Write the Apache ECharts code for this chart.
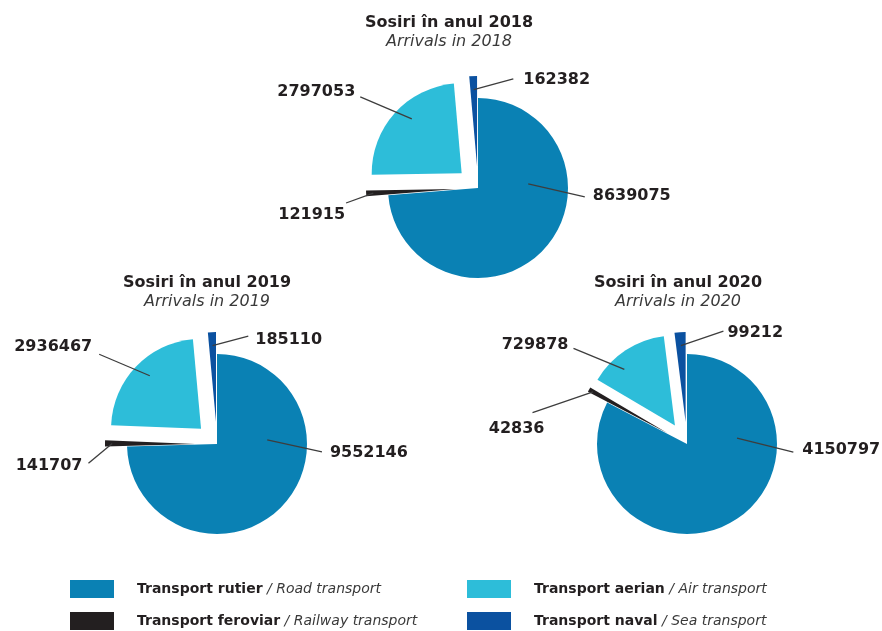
<!DOCTYPE html>
<html>
<head>
<meta charset="utf-8">
<script src="https://cdn.jsdelivr.net/npm/echarts@6/dist/echarts.min.js"></script>
<style>
html, body { margin: 0; background: #fff; }
#main { width: 882px; height: 631px; }
</style>
</head>
<body>
<div id="main"></div>
<script>
// data
var years = ['2018', '2019', '2020'];
var categories = ['Transport rutier', 'Transport feroviar', 'Transport aerian', 'Transport naval'];
var categoriesEn = ['Road transport', 'Railway transport', 'Air transport', 'Sea transport'];
var values2018 = [8639075, 121915, 2797053, 162382];
var values2019 = [9552146, 141707, 2936467, 185110];
var values2020 = [4150797, 42836, 729878, 99212];
var exploded = [false, true, true, true];
var seriesValues = [values2018, values2019, values2020];

// layout
var colors = ['#0a81b4', '#231f20', '#2dbdd9', '#0b51a0'];
var centers = [[478, 188], [217, 444], [687, 444]];
var titleX = [449, 207, 678];
var titleY = [13, 273, 273];
var R = 90, OFFSET = 22;
// label lines: [anchor angle deg (null = middle of slice), anchor radius share,
//               line angle deg, line length, label dx, label dy]
var labelGeom = [
  [[4.6, 0.56, -12.8, 58, 8, -1], [null, 0.92, 200, 29, -1, 12], [132.5, 0.82, 157, 56, -5, -5], [null, 0.85, 15, 41, 10, 1]],
  [[4.6, 0.56, -12.3, 56, 8, 1], [null, 0.92, 220, 31, -6, 3], [134, 0.82, 157, 55, -7, -7], [null, 0.85, 15, 37, 7, 4]],
  [[6.8, 0.56, -14, 58, 9, -2], [null, 0.95, 199, 64, 12, 16], [132, 0.84, 157.6, 55, -5, -4], [null, 0.85, 19, 45, 4, 2]]
];

var FONT = 'DejaVu Sans';

function midAngle(vals, i) {
  var total = 0, before = 0;
  for (var j = 0; j < vals.length; j++) {
    total += vals[j];
    if (j < i) before += vals[j];
  }
  var a0 = -90 + 360 * before / total;
  var a1 = a0 + 360 * vals[i] / total;
  return (a0 + a1) / 2 * Math.PI / 180;
}

function makeLabelLayout(k) {
  return function (p) {
    var vals = seriesValues[k], i = p.dataIndex, g = labelGeom[k][i];
    var mid = midAngle(vals, i);
    var cx = centers[k][0], cy = centers[k][1];
    if (exploded[i]) {
      cx += OFFSET * Math.cos(mid);
      cy += OFFSET * Math.sin(mid);
    }
    var a = g[0] == null ? mid : -g[0] * Math.PI / 180;
    var sx = cx + g[1] * R * Math.cos(a), sy = cy + g[1] * R * Math.sin(a);
    var la = g[2] * Math.PI / 180;
    var ex = sx + g[3] * Math.cos(la), ey = sy - g[3] * Math.sin(la);
    return {
      x: ex + g[4],
      y: ey + g[5],
      align: Math.cos(la) >= 0 ? 'left' : 'right',
      verticalAlign: 'middle',
      labelLinePoints: [[sx, sy], [ex, ey], [ex, ey]]
    };
  };
}

var pieSeries = years.map(function (y, k) {
  return {
    type: 'pie',
    name: y,
    z: 2,
    center: centers[k],
    radius: R,
    startAngle: 90,
    clockwise: true,
    selectedMode: 'multiple',
    selectedOffset: OFFSET,
    avoidLabelOverlap: false,
    label: { show: false },
    labelLine: { show: false },
    emphasis: { disabled: true },
    itemStyle: { borderWidth: 0 },
    data: categories.map(function (c, i) {
      return { name: c, value: seriesValues[k][i], selected: exploded[i] };
    })
  };
});

// transparent copy on top that carries the value labels and their lines
var labelSeries = years.map(function (y, k) {
  return {
    type: 'pie',
    name: y + ' labels',
    z: 5,
    center: centers[k],
    radius: R,
    startAngle: 90,
    clockwise: true,
    silent: true,
    legendHoverLink: false,
    avoidLabelOverlap: false,
    itemStyle: { color: 'transparent' },
    emphasis: { disabled: true },
    label: {
      show: true,
      position: 'outside',
      formatter: function (p) { return String(p.value); },
      color: '#231f20',
      fontFamily: FONT,
      fontWeight: 'bold',
      fontSize: 16
    },
    labelLine: { show: true, lineStyle: { color: '#3d3d3d', width: 1.3 } },
    labelLayout: makeLabelLayout(k),
    data: categories.map(function (c, i) {
      return { name: c, value: seriesValues[k][i] };
    })
  };
});

var titles = years.map(function (y, k) {
  return {
    text: 'Sosiri în anul ' + y,
    subtext: 'Arrivals in ' + y,
    left: titleX[k],
    top: titleY[k],
    textAlign: 'center',
    padding: 0,
    itemGap: 1,
    textStyle: { fontFamily: FONT, fontWeight: 'bold', fontSize: 16, lineHeight: 19, color: '#231f20' },
    subtextStyle: { fontFamily: FONT, fontStyle: 'italic', fontSize: 16, lineHeight: 18, color: '#3a3a3a' }
  };
});

var legendCommon = {
  orient: 'vertical',
  top: 580,
  padding: 0,
  icon: 'rect',
  itemWidth: 44,
  itemHeight: 18,
  itemGap: 14,
  selectedMode: false,
  formatter: function (name) {
    return '{b|' + name + '} {i|/ ' + categoriesEn[categories.indexOf(name)] + '}';
  },
  textStyle: {
    fontFamily: FONT,
    fontSize: 14,
    padding: [0, 0, 0, 18],
    rich: {
      b: { fontFamily: FONT, fontWeight: 'bold', fontSize: 14, color: '#231f20' },
      i: { fontFamily: FONT, fontStyle: 'italic', fontSize: 14, color: '#3a3a3a' }
    }
  }
};

var option = {
  animation: false,
  backgroundColor: '#ffffff',
  color: colors,
  title: titles,
  legend: [
    Object.assign({}, legendCommon, { left: 70, data: [categories[0], categories[1]] }),
    Object.assign({}, legendCommon, { left: 467, data: [categories[2], categories[3]] })
  ],
  series: pieSeries.concat(labelSeries)
};

var chart = echarts.init(document.getElementById('main'));
chart.setOption(option);
</script>
</body>
</html>
